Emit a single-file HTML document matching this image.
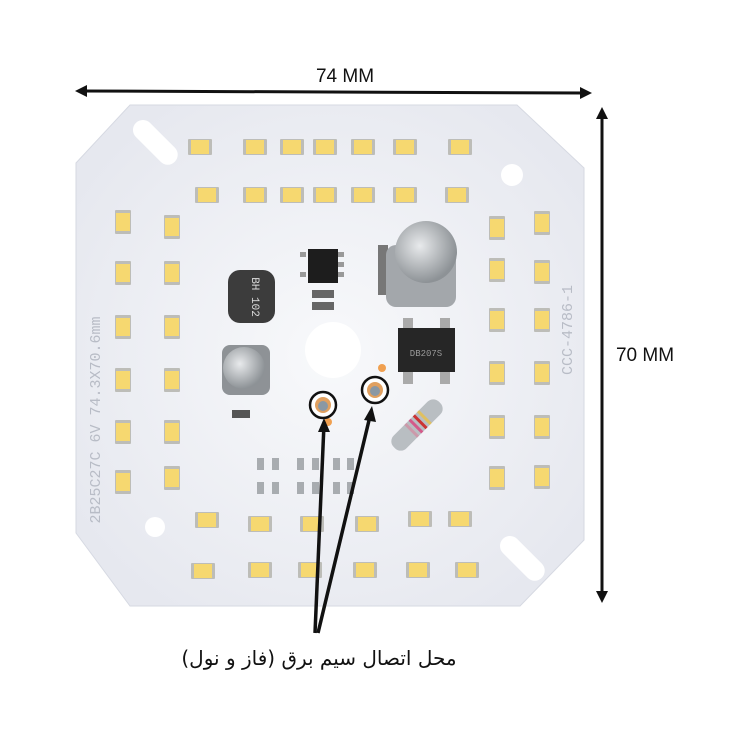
<!DOCTYPE html>
<html><head><meta charset="utf-8"><style>
html,body{margin:0;padding:0;background:#fff;}
svg{display:block;}
</style></head><body>
<svg width="750" height="750" viewBox="0 0 750 750" xmlns="http://www.w3.org/2000/svg">
<defs>
<radialGradient id="bg" cx="50%" cy="50%" r="60%">
<stop offset="0" stop-color="#f8f9fb"/><stop offset="1" stop-color="#e6e8ef"/>
</radialGradient>
<radialGradient id="al" cx="40%" cy="40%" r="60%">
<stop offset="0" stop-color="#e8eaec"/><stop offset="1" stop-color="#8d9296"/>
</radialGradient>
<g id="lh"><rect x="-12" y="-8" width="24" height="16" fill="#bdbdb8" rx="1"/><rect x="-9" y="-7" width="18" height="14" fill="#f6d870"/></g>
<g id="lv"><rect x="-8" y="-12" width="16" height="24" fill="#bdbdb8" rx="1"/><rect x="-7" y="-9" width="14" height="18" fill="#f6d870"/></g>
</defs>
<rect width="750" height="750" fill="#fff"/>
<polygon points="130,105 517,105 584,168 584,540 520,606 130,606 76,533 76,163" fill="url(#bg)" stroke="#d6d9e2" stroke-width="1"/>
<rect x="128" y="132" width="55" height="20" rx="10" fill="#fff" transform="rotate(45 155 142)"/>
<circle cx="512" cy="175" r="11" fill="#fff"/>
<circle cx="155" cy="527" r="10" fill="#fff"/>
<rect x="495" y="548" width="55" height="20" rx="10" fill="#fff" transform="rotate(45 522 558)"/>
<text x="100" y="420" transform="rotate(-90 100 420)" text-anchor="middle" font-family="Liberation Mono, monospace" font-size="15" fill="#b8bcc6">2B25C27C 6V  74.3X70.6mm</text>
<text x="572" y="330" transform="rotate(-90 572 330)" text-anchor="middle" font-family="Liberation Mono, monospace" font-size="15" fill="#b8bcc6">CCC-4786-1</text>
<g>
<use href="#lh" x="200" y="147"/><use href="#lh" x="255" y="147"/><use href="#lh" x="292" y="147"/><use href="#lh" x="325" y="147"/><use href="#lh" x="363" y="147"/><use href="#lh" x="405" y="147"/><use href="#lh" x="460" y="147"/>
<use href="#lh" x="207" y="195"/><use href="#lh" x="255" y="195"/><use href="#lh" x="292" y="195"/><use href="#lh" x="325" y="195"/><use href="#lh" x="363" y="195"/><use href="#lh" x="405" y="195"/><use href="#lh" x="457" y="195"/>
</g>
<g>
<use href="#lv" x="123" y="222"/><use href="#lv" x="123" y="273"/><use href="#lv" x="123" y="327"/><use href="#lv" x="123" y="380"/><use href="#lv" x="123" y="432"/><use href="#lv" x="123" y="482"/>
<use href="#lv" x="172" y="227"/><use href="#lv" x="172" y="273"/><use href="#lv" x="172" y="327"/><use href="#lv" x="172" y="380"/><use href="#lv" x="172" y="432"/><use href="#lv" x="172" y="478"/>
</g>
<g>
<use href="#lv" x="497" y="228"/><use href="#lv" x="497" y="270"/><use href="#lv" x="497" y="320"/><use href="#lv" x="497" y="373"/><use href="#lv" x="497" y="427"/><use href="#lv" x="497" y="478"/>
<use href="#lv" x="542" y="223"/><use href="#lv" x="542" y="272"/><use href="#lv" x="542" y="320"/><use href="#lv" x="542" y="373"/><use href="#lv" x="542" y="427"/><use href="#lv" x="542" y="477"/>
</g>
<g>
<use href="#lh" x="207" y="520"/><use href="#lh" x="260" y="524"/><use href="#lh" x="312" y="524"/><use href="#lh" x="367" y="524"/><use href="#lh" x="420" y="519"/><use href="#lh" x="460" y="519"/>
<use href="#lh" x="203" y="571"/><use href="#lh" x="260" y="570"/><use href="#lh" x="310" y="570"/><use href="#lh" x="365" y="570"/><use href="#lh" x="418" y="570"/><use href="#lh" x="467" y="570"/>
</g>
<g fill="#a8acb0">
<rect x="257" y="458" width="7" height="12"/><rect x="272" y="458" width="7" height="12"/><rect x="297" y="458" width="7" height="12"/><rect x="312" y="458" width="7" height="12"/><rect x="333" y="458" width="7" height="12"/><rect x="347" y="458" width="7" height="12"/>
<rect x="257" y="482" width="7" height="12"/><rect x="272" y="482" width="7" height="12"/><rect x="297" y="482" width="7" height="12"/><rect x="312" y="482" width="7" height="12"/><rect x="333" y="482" width="7" height="12"/><rect x="347" y="482" width="7" height="12"/>
</g>
<rect x="228" y="270" width="47" height="53" rx="12" fill="#3c3c3c"/>
<text x="252" y="297" transform="rotate(90 252 297)" text-anchor="middle" font-family="Liberation Mono, monospace" font-size="11" fill="#ddd">BH 102</text>
<rect x="222" y="345" width="48" height="50" rx="8" fill="#8e9296"/>
<circle cx="244" cy="368" r="21" fill="url(#al)"/>
<rect x="300" y="252" width="6" height="5" fill="#999"/><rect x="300" y="272" width="6" height="5" fill="#999"/>
<rect x="338" y="252" width="6" height="5" fill="#999"/><rect x="338" y="262" width="6" height="5" fill="#999"/><rect x="338" y="272" width="6" height="5" fill="#999"/>
<rect x="308" y="249" width="30" height="34" fill="#1d1d1d"/>
<rect x="312" y="290" width="22" height="8" fill="#666"/><rect x="312" y="302" width="22" height="8" fill="#666"/>
<rect x="232" y="410" width="18" height="8" fill="#555"/>
<rect x="378" y="245" width="10" height="50" fill="#777"/>
<rect x="386" y="245" width="70" height="62" rx="10" fill="#a3a7ab"/>
<circle cx="426" cy="252" r="31" fill="url(#al)"/>
<rect x="403" y="318" width="10" height="12" fill="#aaa"/><rect x="440" y="318" width="10" height="12" fill="#aaa"/>
<rect x="403" y="370" width="10" height="14" fill="#aaa"/><rect x="440" y="370" width="10" height="14" fill="#aaa"/>
<rect x="398" y="328" width="57" height="44" fill="#262626"/>
<text x="426" y="356" text-anchor="middle" font-family="Liberation Mono, monospace" font-size="9" fill="#999">DB207S</text>
<g transform="rotate(-45 417 425)">
<rect x="385" y="416" width="64" height="18" rx="8" fill="#b9bec2"/>
<rect x="408" y="416" width="3" height="18" fill="#c9a"/><rect x="414" y="416" width="3" height="18" fill="#d45a8a"/><rect x="420" y="416" width="3" height="18" fill="#c33"/><rect x="426" y="416" width="3" height="18" fill="#e0c060"/>
</g>
<circle cx="333" cy="350" r="28" fill="#fff"/>
<circle cx="382" cy="368" r="4" fill="#f0a050"/><circle cx="328" cy="422" r="4" fill="#f0a050"/>
<circle cx="323" cy="405" r="13" fill="#fff" stroke="#111" stroke-width="2.5"/>
<circle cx="323" cy="405" r="8" fill="#e0a060"/><circle cx="323" cy="406" r="5" fill="#8a98a4"/>
<circle cx="375" cy="390" r="13" fill="#fff" stroke="#111" stroke-width="2.5"/>
<circle cx="375" cy="390" r="8" fill="#e0a060"/><circle cx="375" cy="391" r="5" fill="#8a98a4"/>
<g stroke="#111" stroke-width="3.5" fill="none">
<line x1="315" y1="633" x2="324" y2="424"/>
<line x1="318" y1="633" x2="371" y2="412"/>
</g>
<polygon points="324,418 318,432 330,432" fill="#111"/>
<polygon points="372,406 364,420 376,422" fill="#111"/>
<line x1="82" y1="91" x2="585" y2="93" stroke="#111" stroke-width="3"/>
<polygon points="75,91 87,85 87,97" fill="#111"/>
<polygon points="592,93 580,87 580,99" fill="#111"/>
<line x1="602" y1="115" x2="602" y2="595" stroke="#111" stroke-width="3"/>
<polygon points="602,107 596,119 608,119" fill="#111"/>
<polygon points="602,603 596,591 608,591" fill="#111"/>
<text x="345" y="82" text-anchor="middle" font-family="Liberation Sans, sans-serif" font-size="19" fill="#111">74 MM</text>
<text x="645" y="361" text-anchor="middle" font-family="Liberation Sans, sans-serif" font-size="19" fill="#111">70 MM</text>
<text x="319" y="665" text-anchor="middle" font-family="DejaVu Sans, sans-serif" font-size="20" fill="#111" direction="rtl">محل اتصال سیم برق (فاز و نول)</text>
</svg>
</body></html>
